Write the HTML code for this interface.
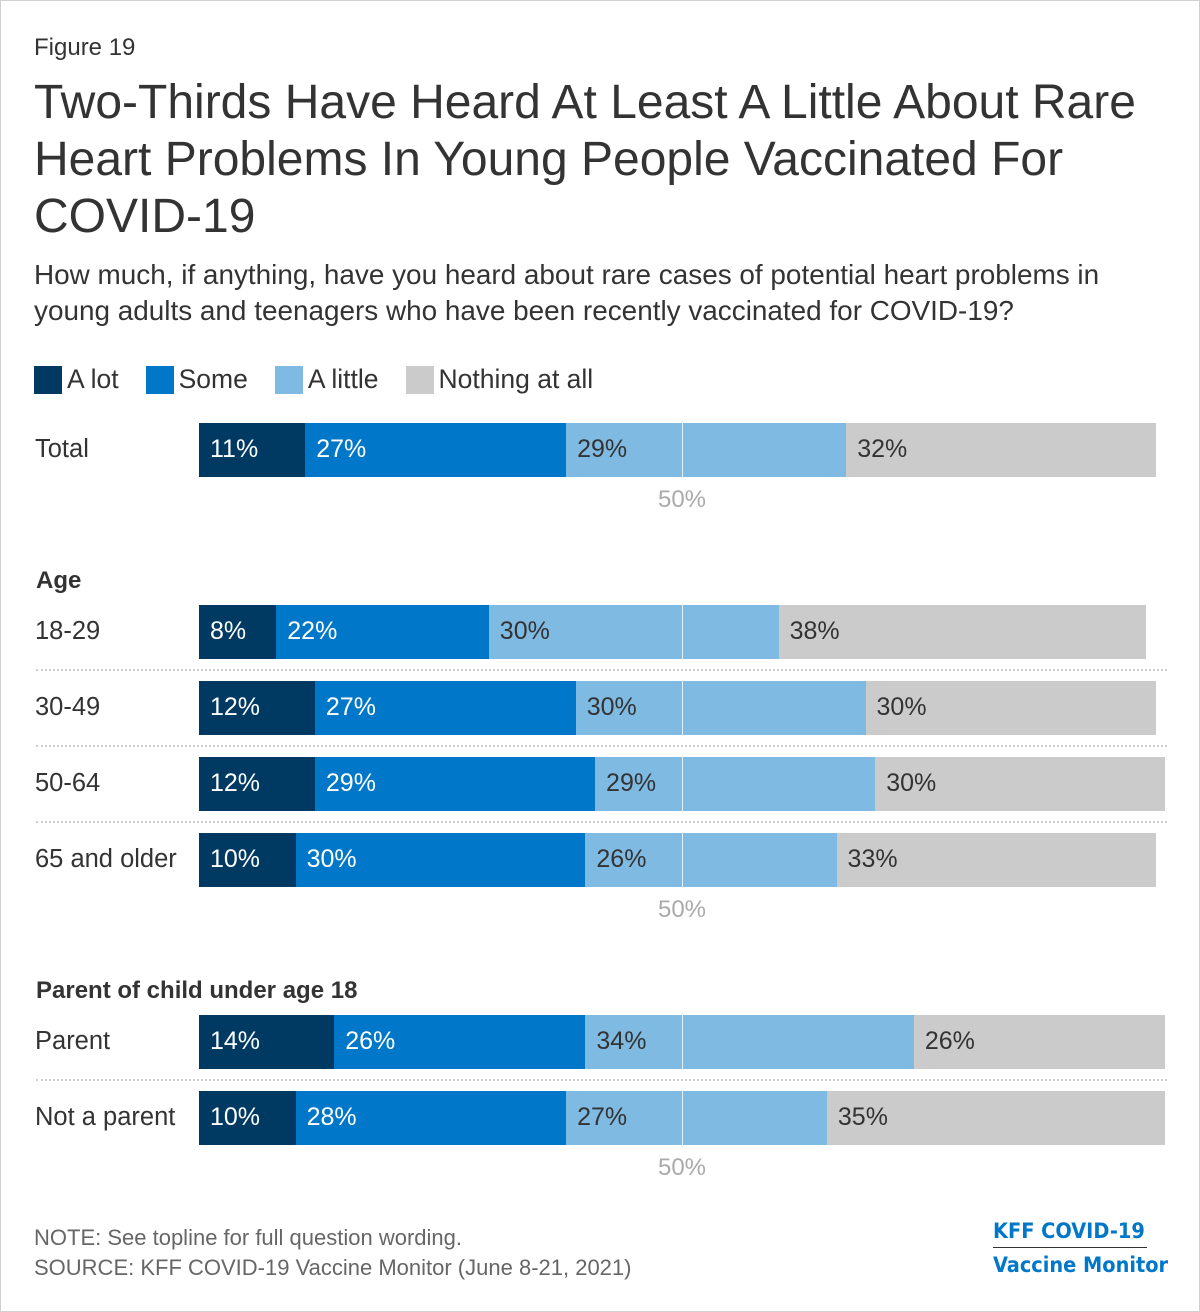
<!DOCTYPE html>
<html><head><meta charset="utf-8"><style>
body{margin:0;background:#fff;}
#wrap{position:relative;width:1198px;height:1310px;border:1px solid #d0d0d0;font-family:"Liberation Sans",Arial,sans-serif;color:#333;overflow:hidden;}
.t{position:absolute;white-space:nowrap;}
</style></head><body>
<div id="wrap">
<div class="t" style="left:33px;top:33px;font-size:24px;">Figure 19</div>
<div class="t" style="left:33px;top:73px;font-size:48px;line-height:57px;white-space:normal;width:1140px;color:#333">Two-Thirds Have Heard At Least A Little About Rare Heart Problems In Young People Vaccinated For COVID-19</div>
<div class="t" style="left:33px;top:256px;font-size:27.9px;line-height:36px;white-space:normal;width:1125px;">How much, if anything, have you heard about rare cases of potential heart problems in young adults and teenagers who have been recently vaccinated for COVID-19?</div>
<div class="t" style="left:33px;top:1224px;font-size:22px;color:#666">NOTE: See topline for full question wording.</div>
<div class="t" style="left:33px;top:1254px;font-size:22px;color:#666">SOURCE: KFF COVID-19 Vaccine Monitor (June 8-21, 2021)</div>
<div class="t" style="left:992px;top:1218px;font-size:21.5px;font-weight:bold;color:#0077c8;font-family:'DejaVu Sans Condensed','DejaVu Sans',sans-serif;">KFF COVID-19</div>
<div class="t" style="left:992px;top:1246px;width:154px;height:1px;background:#333"></div>
<div class="t" style="left:992px;top:1252px;font-size:21.5px;font-weight:bold;color:#0077c8;font-family:'DejaVu Sans Condensed','DejaVu Sans',sans-serif;">Vaccine Monitor</div>
</div>
<script>
const seriesNames=["A lot","Some","A little","Nothing at all"];
const colors=["#003a63","#0077c8","#7fbae3","#cbcbcb"];
const textColors=["#fff","#fff","#333","#333"];
const categories=["Total","18-29","30-49","50-64","65 and older","Parent","Not a parent"];
const aLot=[11,8,12,12,10,14,10];
const some=[27,22,27,29,30,26,28];
const aLittle=[29,30,30,29,26,34,27];
const nothing=[32,38,30,30,33,26,35];
const rowY=[422,604,680,756,832,1014,1090];
const wrap=document.getElementById('wrap');
const x0=198, pxPer=9.66, barH=54;
function xScale(v){return x0+v*pxPer;}
function add(tag,style,text){const e=document.createElement(tag);e.className='t';e.style.cssText=style;if(text!==undefined)e.textContent=text;wrap.appendChild(e);return e;}
let lx=33;
seriesNames.forEach((n,i)=>{
  const sw=add('div',`left:${lx}px;top:365px;width:28px;height:28px;background:${colors[i]}`);
  
  
  const lt=add('div',`left:${lx+33}px;top:363px;font-size:26.5px;`,n);
  
  
  lx+=33+lt.getBoundingClientRect().width+27;
});
const h1=add('div','left:35px;top:566px;font-size:24px;font-weight:bold','Age');


const h2=add('div','left:35px;top:976px;font-size:24px;font-weight:bold','Parent of child under age 18');


const series=[aLot,some,aLittle,nothing];
categories.forEach((c,r)=>{
  const y=rowY[r];
  const lab=add('div',`left:34px;top:${y+12}px;font-size:25.5px;`,c);
  
  
  let cum=0;
  series.forEach((s,i)=>{
    const v=s[r];
    const seg=add('div',`left:${xScale(cum)}px;top:${y}px;width:${v*pxPer+0.5}px;height:${barH}px;background:${colors[i]}`);
    
    
    const vt=add('div',`left:${xScale(cum)+11}px;top:${y+12}px;font-size:25px;color:${textColors[i]}`,v+'%');
    
    
    cum+=v;
  });
  const ml=add('div',`left:${xScale(50)}px;top:${y}px;width:1px;height:${barH}px;background:rgba(255,255,255,0.8)`);
  
  
  if(r===1||r===2||r===3||r===5){
    const sep=add('div',`left:35px;top:${y+barH+10}px;width:1131px;height:0;border-top:2px dotted #ccc`);
    
    
  }
});
[485,895,1153].forEach(y=>{
  const t=add('div',`left:${xScale(50)-30}px;top:${y}px;font-size:24px;color:#aaa;width:60px;text-align:center`,'50%');
  
  
});
</script>
</body></html>
